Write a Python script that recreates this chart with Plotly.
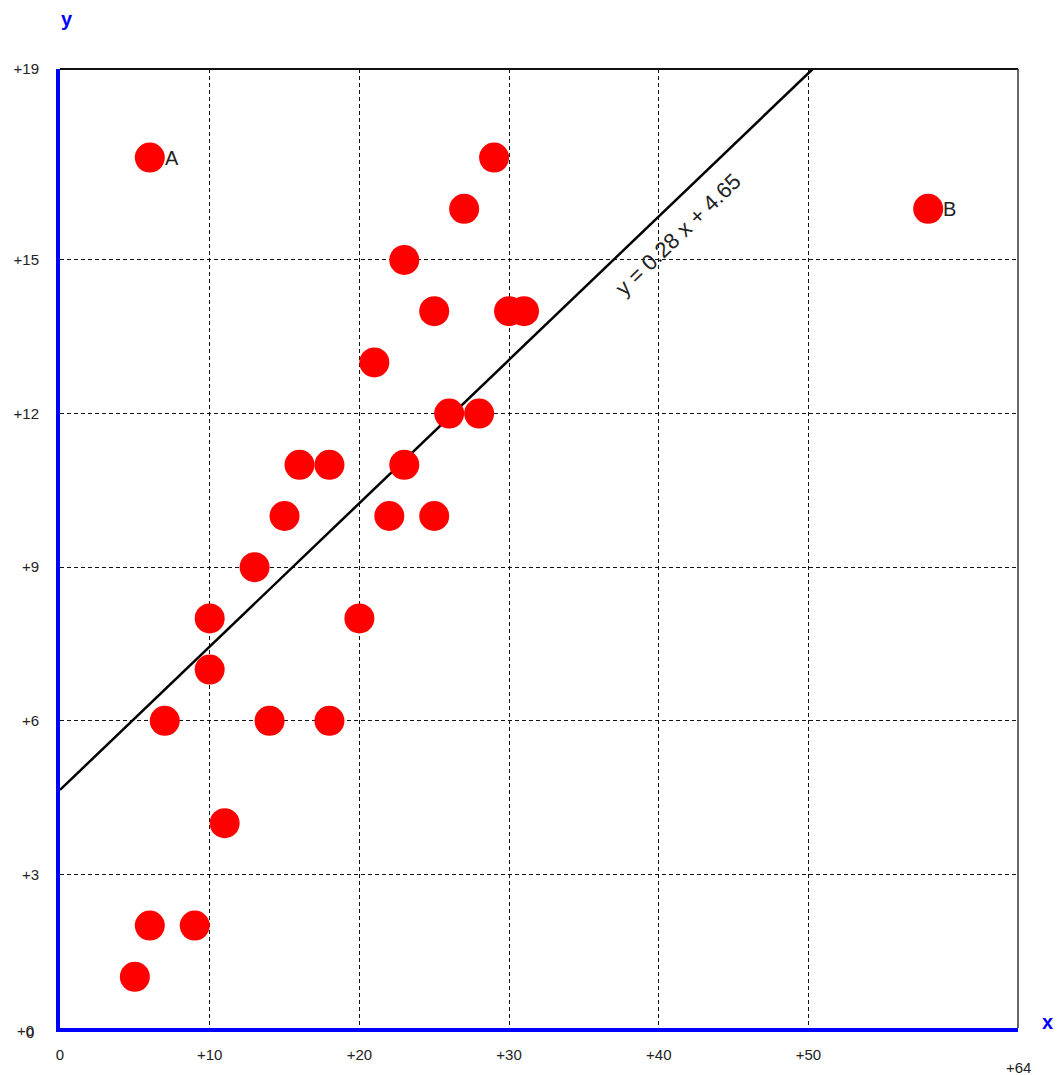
import plotly.graph_objects as go

# data
xs = [6, 58, 29, 27, 23, 25, 30, 31, 21, 26, 28, 16, 18, 23, 15, 22, 25, 13, 10, 20, 10, 7, 14, 18, 11, 6, 9, 5]
ys = [17, 16, 17, 16, 15, 14, 14, 14, 13, 12, 12, 11, 11, 11, 10, 10, 10, 9, 8, 8, 7, 6, 6, 6, 4, 2, 2, 1]
point_labels = ["A", "B"] + [""] * 26
slope = 0.28
intercept = 4.65
x_ticks = [0, 10, 20, 30, 40, 50]
x_ticktext = ["0", "+10", "+20", "+30", "+40", "+50"]
y_ticks = [0, 3, 6, 9, 12, 15, 18.73]
y_ticktext = ["", "+3", "+6", "+9", "+12", "+15", "+19"]
x_max = 64
y_max = 18.73

W, H = 1058, 1075
ML, MR, MT, MB = 60, 40, 69, 47
PW, PH = W - ML - MR, H - MT - MB


def paper_xy(px, py):
    """page pixel -> paper coords"""
    return (px - ML) / PW, (H - MB - py) / PH


fig = go.Figure()

x_end = (y_max - intercept) / slope
fig.add_trace(go.Scatter(
    x=[0, x_end], y=[intercept, intercept + slope * x_end],
    mode="lines", line=dict(color="black", width=2.5), hoverinfo="skip"))

fig.add_trace(go.Scatter(
    x=xs, y=ys, mode="markers",
    marker=dict(color="#ff0000", size=30, line=dict(width=0))))

font = dict(family="Liberation Sans, Arial", size=15, color="#222")

fig.update_layout(
    width=W, height=H,
    margin=dict(l=ML, r=MR, t=MT, b=MB, autoexpand=False),
    paper_bgcolor="white", plot_bgcolor="white",
    showlegend=False,
    xaxis=dict(range=[0, x_max], tickvals=x_ticks, ticktext=x_ticktext,
               showgrid=True, gridcolor="#111", griddash="4px,3px", gridwidth=1,
               showline=True, linecolor="#0000ff", linewidth=4,
               ticks="outside", ticklen=10, tickcolor="rgba(0,0,0,0)",
               tickfont=font, zeroline=False, fixedrange=True, automargin=False),
    yaxis=dict(range=[0, y_max], tickvals=y_ticks, ticktext=y_ticktext,
               showgrid=True, gridcolor="#111", griddash="4px,3px", gridwidth=1,
               showline=True, linecolor="#0000ff", linewidth=4,
               ticks="outside", ticklen=14, tickcolor="rgba(0,0,0,0)",
               tickfont=font, zeroline=False, fixedrange=True, automargin=False),
)

# solid top and right border
fig.add_shape(type="line", xref="paper", yref="paper", x0=0, x1=1, y0=1, y1=1,
              line=dict(color="#111", width=2))
fig.add_shape(type="line", xref="paper", yref="paper", x0=1, x1=1, y0=0, y1=1,
              line=dict(color="#333", width=1.5))

annos = []
for xv, yv, lab in zip(xs, ys, point_labels):
    if lab:
        annos.append(dict(x=xv, y=yv, xref="x", yref="y", text=lab, showarrow=False,
                          xanchor="left", yanchor="middle", xshift=13,
                          font=dict(family="Liberation Sans, Arial", size=20, color="#222")))

annos.append(dict(x=41.3, y=15.5, xref="x", yref="y", text="y = 0.28 x + 4.65",
                  showarrow=False, textangle=-44, xanchor="center", yanchor="middle",
                  font=dict(family="Liberation Sans, Arial", size=22, color="#222")))
annos.append(dict(x=x_max, y=0, xref="x", yref="y", text="+64", showarrow=False,
                  xanchor="center", yanchor="middle", yshift=-39, font=font))
px, py = paper_xy(25, 1030)
annos.append(dict(x=px, y=py, xref="paper", yref="paper", text="+0", showarrow=False,
                  xanchor="center", yanchor="middle", font=font))
px, py = paper_xy(30, 1032)
annos.append(dict(x=px, y=py, xref="paper", yref="paper", text="0", showarrow=False,
                  xanchor="center", yanchor="middle", font=font))
px, py = paper_xy(67, 19)
annos.append(dict(x=px, y=py, xref="paper", yref="paper", text="<b>y</b>", showarrow=False,
                  xanchor="center", yanchor="middle",
                  font=dict(family="Liberation Sans, Arial", size=20, color="#0000ff")))
px, py = paper_xy(1047, 1022)
annos.append(dict(x=px, y=py, xref="paper", yref="paper", text="<b>x</b>", showarrow=False,
                  xanchor="center", yanchor="middle",
                  font=dict(family="Liberation Sans, Arial", size=20, color="#0000ff")))
fig.update_layout(annotations=annos)

fig.write_html("out.html",
               config={"displayModeBar": False},
               post_script="document.body.style.margin='0';document.body.style.overflow='hidden';")
